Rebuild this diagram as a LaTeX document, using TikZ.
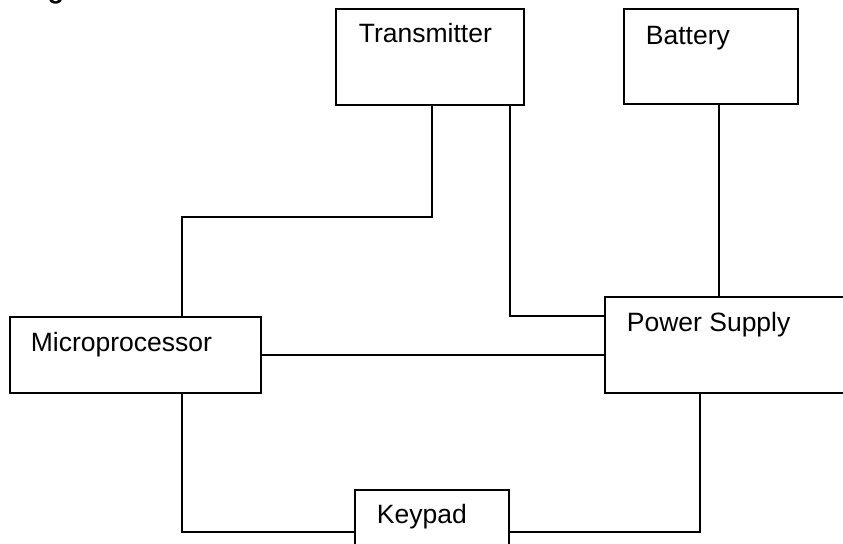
\documentclass[tikz,border=0pt]{standalone}
\usepackage{fontspec}
\setmainfont{Liberation Sans}
\usepackage{tikz}
\usetikzlibrary{positioning}

\begin{document}
\begin{tikzpicture}[x=0.5pt,y=-0.5pt,line width=0.9pt,
    block/.style={draw=black,line width=0.9pt,anchor=north west,inner sep=0pt},
    lbl/.style={anchor=base west,inner sep=0pt,font=\fontsize{13.25}{16}\selectfont}]
    \clip (0,0) rectangle (843,544);
    \useasboundingbox (0,0) rectangle (843,544);
    % cut-off heading above the figure
    \node[anchor=base west,inner sep=0pt,font=\fontsize{13.25}{16}\selectfont\bfseries] (head) at (47,-1) {g};
    % blocks
    \node[block,minimum width=94pt,minimum height=48pt] (tx) at (335,8) {};
    \node[block,minimum width=87pt,minimum height=47.5pt] (bat) at (623,8) {};
    \node[block,minimum width=125.5pt,minimum height=38pt] (mp) at (9,316) {};
    \node[block,minimum width=125pt,minimum height=48pt] (ps) at (604,296) {};
    \node[block,minimum width=77pt,minimum height=35pt] (kp) at (354,489) {};
    \node[lbl] (txtx) at ([xshift=11.5pt,yshift=-17.5pt]tx.north west) {Transmitter};
    \node[lbl] (txbat) at ([xshift=11pt,yshift=-18.5pt]bat.north west) {Battery};
    \node[lbl] (txmp) at ([xshift=10.5pt,yshift=-18pt]mp.north west) {Microprocessor};
    \node[lbl] (txps) at ([xshift=11pt,yshift=-18pt]ps.north west) {Power Supply};
    \node[lbl] (txkp) at ([xshift=11pt,yshift=-17.5pt]kp.north west) {Keypad};
    % wiring
    \coordinate (j1) at (182,217);
    \coordinate (batout) at ([xshift=48pt]bat.south west);
    \coordinate (mpout) at ([xshift=86.5pt]mp.south west);
    \draw ([xshift=48.5pt]tx.south west) |- (j1) -- ([xshift=86.5pt]mp.north west);
    \draw ([xshift=87.5pt]tx.south west) |- ([yshift=-10pt]ps.north west);
    \draw (batout) -- (batout |- ps.north);
    \draw (mp.east) -- (mp.east -| ps.west);
    \draw (mpout) |- ([yshift=-21.5pt]kp.north west);
    \draw ([yshift=-21.5pt]kp.north east) -| ([xshift=48pt]ps.south west);
  \end{tikzpicture}
\end{document}
